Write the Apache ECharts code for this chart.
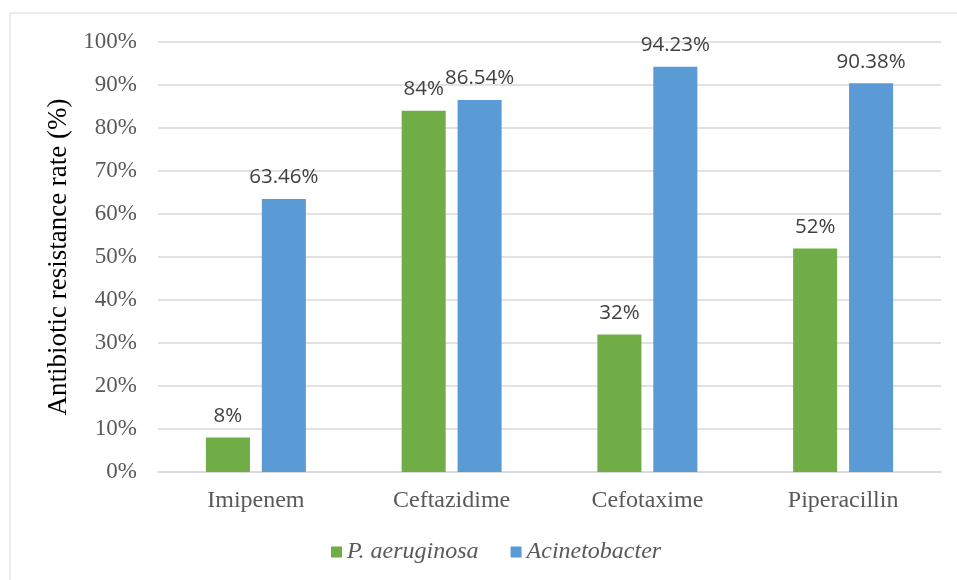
<!DOCTYPE html>
<html>
<head>
<meta charset="utf-8">
<script src="https://cdn.jsdelivr.net/npm/echarts@6/dist/echarts.min.js"></script>
<style>
  html, body { margin: 0; padding: 0; background: #fff; }
  #chart { width: 957px; height: 580px; }
</style>
</head>
<body>
<div id="chart"></div>
<script>
const categories = ["Imipenem", "Ceftazidime", "Cefotaxime", "Piperacillin"];
const pAeruginosa = [8, 84, 32, 52];
const acinetobacter = [63.46, 86.54, 94.23, 90.38];

const chart = echarts.init(document.getElementById("chart"));

const labelStyle = {
  show: true,
  position: "top",
  distance: 11,
  color: "#404040",
  fontFamily: "Open Sans, Noto Sans, sans-serif",
  fontSize: 20.5,
  formatter: (p) => p.value + "%",
};

const option = {
  animation: false,
  graphic: [
    {
      type: "rect",
      shape: { x: 10, y: 13, width: 960, height: 580 },
      style: { fill: "none", stroke: "#d9d9d9", lineWidth: 1 },
      silent: true,
    },
  ],
  grid: { left: 158, right: 16, top: 42, bottom: 108 },
  legend: {
    bottom: 11,
    left: 326,
    itemWidth: 11,
    itemHeight: 11,
    itemGap: 32,
    icon: "rect",
    textStyle: {
      fontFamily: "Liberation Serif, serif",
      fontStyle: "italic",
      fontSize: 24,
      color: "#595959",
    },
    data: ["P. aeruginosa", "Acinetobacter"],
  },
  xAxis: {
    type: "category",
    data: categories,
    axisLine: { lineStyle: { color: "#d9d9d9", width: 1.5 } },
    axisTick: { show: false },
    axisLabel: {
      margin: 17,
      fontFamily: "Liberation Serif, serif",
      fontSize: 24,
      color: "#595959",
    },
  },
  yAxis: {
    type: "value",
    min: 0,
    max: 100,
    interval: 10,
    name: "Antibiotic resistance rate (%)",
    nameLocation: "middle",
    nameGap: 82,
    nameTextStyle: {
      fontFamily: "Liberation Serif, serif",
      fontSize: 27,
      color: "#000",
    },
    axisLine: { show: false },
    axisTick: { show: false },
    splitLine: { lineStyle: { color: "#d9d9d9", width: 1.5 } },
    axisLabel: {
      margin: 21,
      formatter: "{value}%",
      fontFamily: "Liberation Serif, serif",
      fontSize: 23,
      color: "#595959",
    },
  },
  series: [
    {
      name: "P. aeruginosa",
      type: "bar",
      data: pAeruginosa,
      barWidth: "22.5%",
      barGap: "27%",
      itemStyle: { color: "#70ad47" },
      label: labelStyle,
    },
    {
      name: "Acinetobacter",
      type: "bar",
      data: acinetobacter,
      barWidth: "22.5%",
      itemStyle: { color: "#5b9bd5" },
      label: labelStyle,
    },
  ],
};

chart.setOption(option);
</script>
</body>
</html>
